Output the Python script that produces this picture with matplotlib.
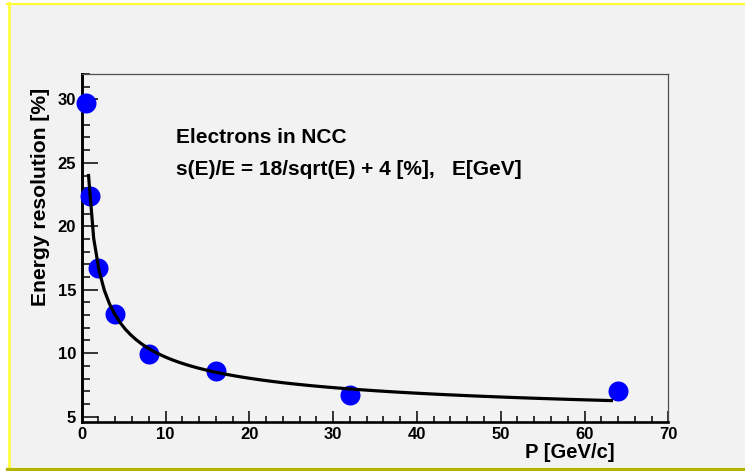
import numpy as np
import matplotlib
matplotlib.use("Agg")
import matplotlib.pyplot as plt
from matplotlib.lines import Line2D
from matplotlib.patches import Rectangle
from matplotlib.ticker import MultipleLocator

# Measured energy resolution of electrons vs. beam momentum
momentum = [0.5, 1, 2, 4, 8, 16, 32, 64]          # GeV/c
resolution = [29.7, 22.4, 16.7, 13.1, 9.9, 8.6, 6.7, 7.0]  # %

# Parametrisation s(E)/E = a/sqrt(E) + b  [%]
stoch_term = 18.0
const_term = 4.0
fit_range = (0.8, 63.4)

x_ticks = [0, 10, 20, 30, 40, 50, 60, 70]
y_ticks = [5, 10, 15, 20, 25, 30]
x_limits = (0, 70)
y_limits = (4.6, 32.0)

title_text = "Electrons in NCC"
formula_text = "s(E)/E = 18/sqrt(E) + 4 [%],   E[GeV]"
x_title = "P [GeV/c]"
y_title = "Energy resolution [%]"

plt.rcParams["font.family"] = ["Liberation Sans", "DejaVu Sans"]
plt.rcParams["font.weight"] = "bold"

W, H = 745, 471
fig = plt.figure(figsize=(W / 100, H / 100), dpi=100)
fig.patch.set_facecolor("white")


def fx(x):
    return x / W


def fy(y):
    return 1 - y / H


# canvas fill and bevelled frame
fig.patches.append(Rectangle((fx(10), fy(467)), fx(W) - fx(10), fy(5) - fy(467),
                             transform=fig.transFigure, facecolor="#f2f2f2",
                             edgecolor="none", zorder=-2))
fig.lines.append(Line2D([fx(7.5), fx(W)], [fy(3.8), fy(3.8)], transform=fig.transFigure,
                        color="#ffff33", lw=1.6, zorder=-1))
fig.lines.append(Line2D([fx(8.7), fx(8.7)], [fy(3), fy(467)], transform=fig.transFigure,
                        color="#ffff33", lw=1.9, zorder=-1))
fig.lines.append(Line2D([fx(7.5), fx(W)], [fy(469.2), fy(469.2)], transform=fig.transFigure,
                        color="#b4b400", lw=2.4, zorder=-1))

left, right, top, bottom = 81.7, 668.3, 74.0, 421.7
ax = fig.add_axes([fx(left), fy(bottom), fx(right) - fx(left), fy(top) - fy(bottom)])
ax.set_zorder(2)
ax.set_facecolor("#f2f2f2")

ax.set_xlim(*x_limits)
ax.set_ylim(*y_limits)

# data points
ax.plot(momentum, resolution, "o", ms=14.4, color="#0000ff", mec="none",
        zorder=3, clip_on=False)

# resolution function
e = np.linspace(fit_range[0], fit_range[1], 100)
ax.plot(e, stoch_term / np.sqrt(e) + const_term, color="black", lw=2.3,
        zorder=4, solid_capstyle="butt")

# axes styling
for side in ("top", "right"):
    ax.spines[side].set_linewidth(0.9)
    ax.spines[side].set_color("#505050")
ax.spines["left"].set_linewidth(2.1)
ax.spines["bottom"].set_linewidth(1.9)
ax.spines["left"].set_color("black")
ax.spines["bottom"].set_color("black")

ax.set_xticks(x_ticks)
ax.set_yticks(y_ticks)
ax.xaxis.set_minor_locator(MultipleLocator(2))
ax.yaxis.set_minor_locator(MultipleLocator(1))
ax.tick_params(axis="x", which="major", direction="in", length=8, width=1.1, pad=4,
               labelsize=12)
ax.tick_params(axis="x", which="minor", direction="in", length=4, width=1.1)
ax.tick_params(axis="y", which="major", direction="in", length=11.5, width=1.1, pad=4,
               labelsize=12)
ax.tick_params(axis="y", which="minor", direction="in", length=6, width=1.1)
for lab in ax.get_xticklabels() + ax.get_yticklabels():
    lab.set_fontweight("bold")

# axis titles
fig.text(fx(615), fy(458.5), x_title, ha="right", va="baseline", fontsize=14.6,
         fontweight="bold")
fig.text(fx(40.5), fy(196.5), y_title, ha="center", va="center", rotation=90,
         fontsize=15.2, fontweight="bold")

# annotations
fig.text(fx(175.5), fy(142.7), title_text, ha="left", va="baseline", fontsize=15,
         fontweight="bold")
fig.text(fx(176), fy(175), formula_text, ha="left", va="baseline", fontsize=15,
         fontweight="bold")

fig.savefig("out.png", dpi=100)
